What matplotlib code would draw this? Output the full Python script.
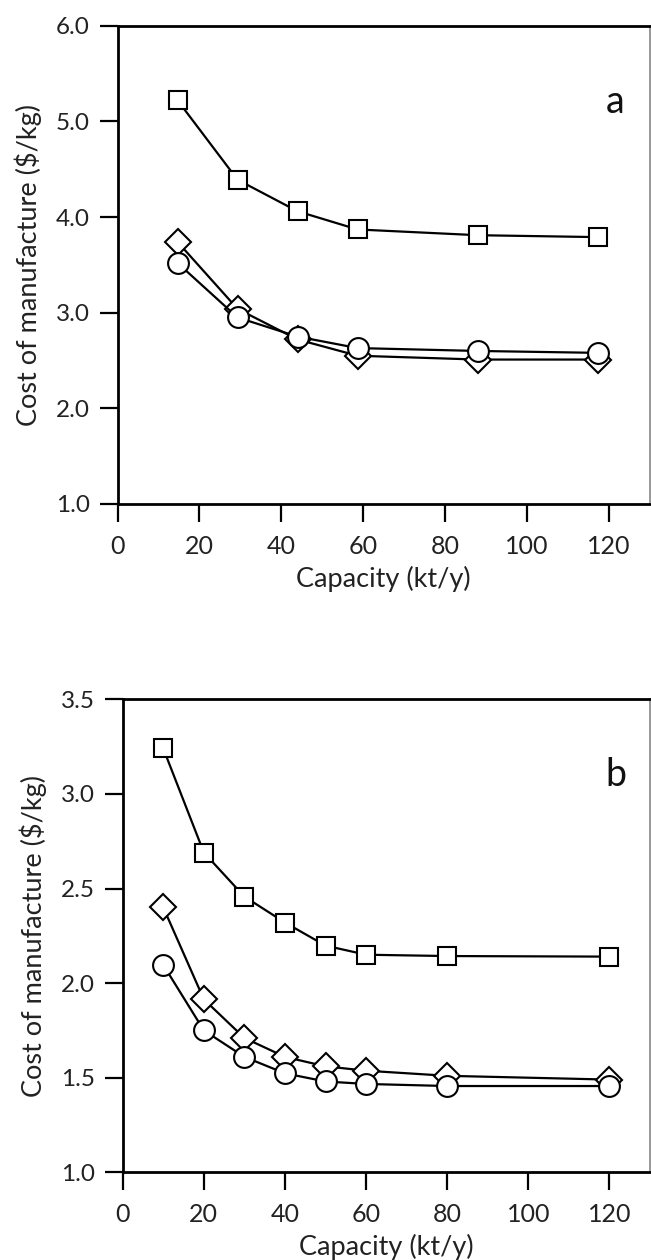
import matplotlib.pyplot as plt

plt.rcParams["font.family"] = ["Lato", "DejaVu Sans"]

# =========================================================
# data
# =========================================================

cap_a = [14.65, 29.3, 43.95, 58.6, 87.9, 117.2]
square_a = [5.22, 4.39, 4.06, 3.87, 3.81, 3.79]
diamond_a = [3.74, 3.04, 2.72, 2.55, 2.51, 2.51]
circle_a = [3.52, 2.95, 2.75, 2.63, 2.60, 2.58]

cap_b = [10, 20, 30, 40, 50, 60, 80, 120]
square_b = [3.24, 2.69, 2.457, 2.32, 2.198, 2.15, 2.143, 2.14]
diamond_b = [2.40, 1.914, 1.71, 1.61, 1.56, 1.537, 1.51, 1.49]
circle_b = [2.096, 1.75, 1.61, 1.523, 1.48, 1.467, 1.456, 1.456]

yticks_a = [1.0, 2.0, 3.0, 4.0, 5.0, 6.0]
yticks_b = [1.0, 1.5, 2.0, 2.5, 3.0, 3.5]
xticks = [0, 20, 40, 60, 80, 100, 120]


# =========================================================
# drawing
# =========================================================

def draw_panel(ax, x, series, yticks, letter):
    marker_style = dict(color="black", linewidth=1.6, markerfacecolor="white",
                        markeredgecolor="black", markeredgewidth=1.5)
    ax.plot(x, series[0], marker="s", markersize=13.5, **marker_style)
    ax.plot(x, series[1], marker="D", markersize=13, **marker_style)
    ax.plot(x, series[2], marker="o", markersize=15, **marker_style)

    ax.set_xlim(0, 130)
    ax.set_ylim(yticks[0], yticks[-1])
    ax.set_xticks(xticks)
    ax.set_yticks(yticks)
    ax.set_yticklabels([f"{v:.1f}" for v in yticks])

    for side in ["left", "bottom", "top"]:
        ax.spines[side].set_linewidth(2.0)
        ax.spines[side].set_color("black")
    ax.spines["right"].set_linewidth(1.2)
    ax.spines["right"].set_color("#888888")

    ax.tick_params(axis="both", direction="out", length=13, width=1.6,
                   color="black", labelcolor="#222222")
    ax.tick_params(axis="y", labelsize=17.5, pad=7)
    ax.tick_params(axis="x", labelsize=18, pad=9)

    ax.set_xlabel("Capacity (kt/y)", fontsize=19.5, labelpad=6, color="#222222")
    ax.set_ylabel("Cost of manufacture ($/kg)", fontsize=19.5, labelpad=10,
                  color="#222222")

    ax.text(0.935, 0.84, letter, transform=ax.transAxes, fontsize=27,
            ha="center", va="center", color="#111111")


fig = plt.figure(figsize=(6.51, 12.6), dpi=100)

ax_a = fig.add_axes([0.1805, 0.600, 0.818, 0.3796])
draw_panel(ax_a, cap_a, [square_a, diamond_a, circle_a], yticks_a, "a")

ax_b = fig.add_axes([0.1885, 0.0696, 0.810, 0.3754])
draw_panel(ax_b, cap_b, [square_b, diamond_b, circle_b], yticks_b, "b")

fig.savefig("out.png", dpi=100)
